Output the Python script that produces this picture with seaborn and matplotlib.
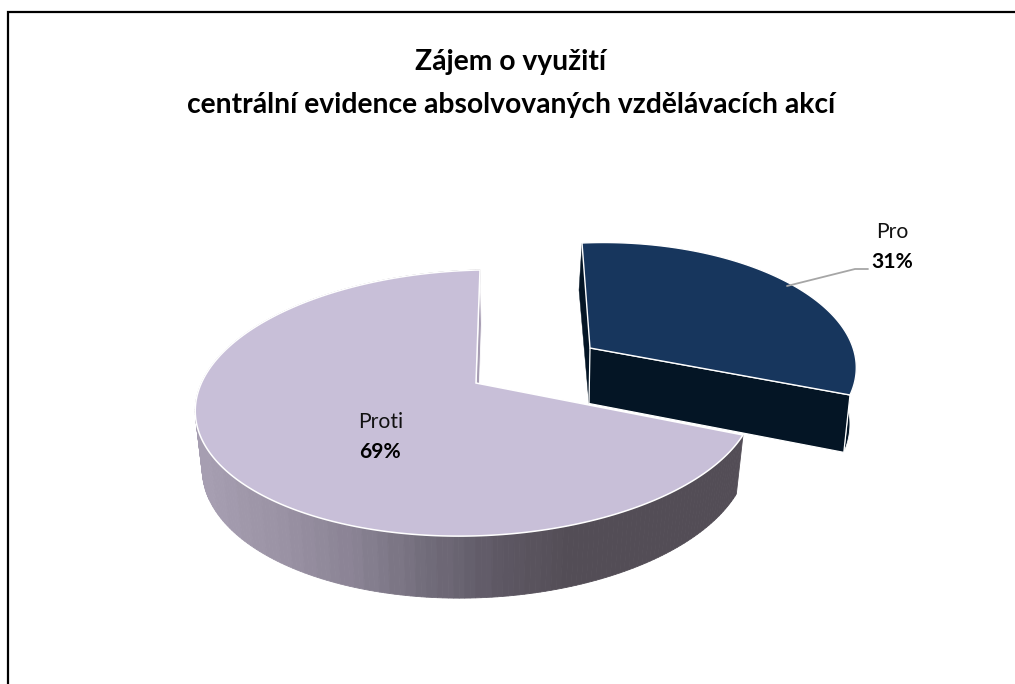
import numpy as np
import matplotlib
matplotlib.use("Agg")
import matplotlib.pyplot as plt
import seaborn as sns

labels = ["Pro", "Proti"]
values = [31, 69]
percent_labels = ["31%", "69%"]
title_lines = ["Zájem o využití", "centrální evidence absolvovaných vzdělávacích akcí"]

sns.set_style("white")
plt.rcParams["font.family"] = ["Lato", "DejaVu Sans"]

top_colors = ["#17365D", "#C8BFD8"]
dark_side = "#041525"
rim_palette = sns.blend_palette(["#A69EB1", "#9A92A4", "#8A8394", "#726D7B", "#5E5864", "#534D56"], 30)


def fit_homography(src, dst):
    # plain DLT, screen position of a few points on the unit circle
    rows = []
    for (u, v), (x, y) in zip(src, dst):
        rows.append([u, v, 1, 0, 0, 0, -x * u, -x * v, -x])
        rows.append([0, 0, 0, u, v, 1, -y * u, -y * v, -y])
    return np.linalg.svd(np.array(rows))[2][-1].reshape(3, 3)


def project(h, pts):
    pts = np.column_stack([pts, np.ones(len(pts))])
    out = pts @ h.T
    return out[:, :2] / out[:, 2:]


fig = plt.figure(figsize=(10.15, 6.84), dpi=100)

# the pie is only used for its wedge angles, then squashed by hand
ax_pie = fig.add_axes([0, 0, 0.1, 0.1])
wedges, _ = ax_pie.pie(values, startangle=90, counterclock=False)
ax_pie.set_visible(False)

ax = fig.add_axes([0, 0, 1, 1])
ax.set_xlim(0, 1015)
ax.set_ylim(684, 0)
ax.axis("off")

# frame, no bottom and right side in the crop
ax.plot([8, 8, 1015], [684, 11.5, 11.5], color="black", lw=1.6, solid_joinstyle="miter")


def arc(w, n=240):
    t = np.radians(np.linspace(w.theta1, w.theta2, n))
    return np.column_stack([np.cos(t), np.sin(t)])


edge_dir = lambda a: (np.cos(np.radians(a)), np.sin(np.radians(a)))
cut = wedges[0].theta1

# Proti
h_proti = fit_homography(
    [(0, 1), (-1, 0), (0, -1), edge_dir(cut)],
    [(480, 270), (197, 396), (471, 536), (743, 435)],
)


def lower_proti(p):
    return np.column_stack([476 + 0.975 * (p[:, 0] - 476), p[:, 1] + 59 + 0.03 * (p[:, 1] - 436)])


w = wedges[1]
rim = project(h_proti, arc(w))
rim_low = lower_proti(rim)
for i in range(len(rim) - 1):
    x_mid = rim[i, 0]
    idx = int(np.clip((x_mid - 197) / (575 - 197) * 30, 0, 29))
    ax.fill([rim[i, 0], rim[i + 1, 0], rim_low[i + 1, 0], rim_low[i, 0]],
            [rim[i, 1], rim[i + 1, 1], rim_low[i + 1, 1], rim_low[i, 1]],
            color=rim_palette[idx], lw=0.6, zorder=2)
# thin inner wall next to the gap
apex = np.array([[476.0, 383.0]])
corner = project(h_proti, np.array([[0.0, 1.0]]))
wall = np.vstack([corner, lower_proti(corner) + [1.5, 0], lower_proti(apex) + [1.5, 0], apex])
ax.fill(wall[:, 0], wall[:, 1], color="#A79DB3", ec="white", lw=0.6, zorder=2)
top = np.vstack([apex, rim])
ax.fill(top[:, 0], top[:, 1], fc=top_colors[1], ec="white", lw=1.1, zorder=3)

# Pro, pulled out of the pie
h_pro = fit_homography(
    [(0, 0), (0, 1), (1, 0), edge_dir(cut)],
    [(590, 348), (582, 243), (852, 345), (850, 395)],
)


def lower_pro(p):
    return np.column_stack([p[:, 0] - 1 - 0.02 * (p[:, 0] - 590), p[:, 1] + 55.5 + 0.04 * (p[:, 1] - 348)])


w = wedges[0]
rim = project(h_pro, arc(w))
rim_low = lower_pro(rim)
apex = project(h_pro, np.array([[0.0, 0.0]]))
corner = project(h_pro, np.array([[0.0, 1.0]]))
end = rim[:1]
outer = np.vstack([rim[:60], rim_low[:60][::-1]])
ax.fill(outer[:, 0], outer[:, 1], fc=dark_side, ec="white", lw=0.6, zorder=4)
wall = np.vstack([corner, [[579, 290]], lower_pro(apex), apex])
ax.fill(wall[:, 0], wall[:, 1], fc=dark_side, ec=dark_side, lw=0.3, zorder=4)
front = np.vstack([apex, end, lower_pro(end), lower_pro(apex)])
ax.fill(front[:, 0], front[:, 1], fc=dark_side, ec="white", lw=0.9, zorder=5)
top = np.vstack([apex, rim])
ax.fill(top[:, 0], top[:, 1], fc=top_colors[0], ec="white", lw=1.0, zorder=6)

# leader line for Pro
ax.plot([787, 855, 868], [286, 269, 269], color="#A6A6A6", lw=1.3, zorder=7)

# texts
ax.text(511, 62, title_lines[0], ha="center", va="center", fontsize=20.3, fontweight="bold", color="black")
ax.text(511, 105, title_lines[1], ha="center", va="center", fontsize=20.3, fontweight="bold", color="black")
ax.text(892, 232, labels[0], ha="center", va="center", fontsize=15.2, color="#111111")
ax.text(892, 262, percent_labels[0], ha="center", va="center", fontsize=15.2, fontweight="bold", color="black")
ax.text(380.5, 422, labels[1], ha="center", va="center", fontsize=15.2, color="#111111", zorder=8)
ax.text(380.5, 452, percent_labels[1], ha="center", va="center", fontsize=15.2, fontweight="bold", color="black", zorder=8)

fig.savefig("out.png", dpi=100)
